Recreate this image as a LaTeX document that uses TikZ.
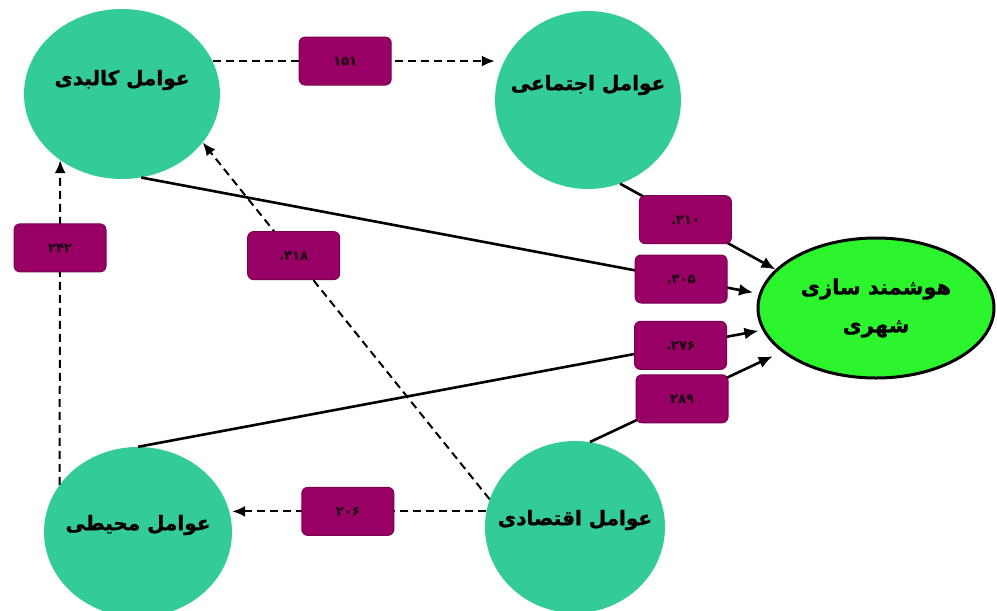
\documentclass[tikz,border=0pt]{standalone}
\usepackage{fontspec}
\usetikzlibrary{shapes.geometric,arrows.meta}
\newfontfamily\arabicfont[Script=Arabic, BoldFeatures={FakeBold=1.2}]{DejaVu Sans}
\TeXXeTstate=1
\definecolor{tealf}{RGB}{51,204,153}
\definecolor{purp}{RGB}{153,0,102}
\definecolor{lgreen}{RGB}{45,245,45}
\newcommand{\dec}[1]{\hbox{.}\hbox{#1}}
\tikzset{
 factor/.style={ellipse, fill=tealf, draw=none, inner sep=0pt},
 etext/.style={font=\arabicfont\bfseries\fontsize{20}{24}\selectfont, text=black},
 lbl/.style={rectangle, solid, rounded corners=6pt, fill=purp, draw=purp!80!black, line width=1pt,
   minimum width=92pt, minimum height=48pt, inner sep=0pt,
   font=\arabicfont\bfseries\fontsize{13}{15}\selectfont, text=black!75!purp},
 solidarrow/.style={line width=2.6pt, -{Latex[length=14pt,width=12pt]}},
 dasharrow/.style={line width=2pt, dash pattern=on 8pt off 5pt, -{Latex[length=13pt,width=11pt]}},
}
\begin{document}
\begin{tikzpicture}[x=1pt,y=-1pt]
\useasboundingbox (0,0) rectangle (997,611);
\clip (0,0) rectangle (997,611);
% factor ellipses
\node[factor, minimum width=196pt, minimum height=170pt] (phys) at (122,94) {};
\node[factor, minimum width=186pt, minimum height=178pt] (soc) at (588,100) {};
\node[factor, minimum width=188pt, minimum height=170pt] (env) at (138,532) {};
\node[factor, minimum width=180pt, minimum height=172pt] (eco) at (575,527) {};
\node[ellipse, fill=lgreen, draw=black, line width=3pt, line join=round, minimum width=236pt, minimum height=140pt, inner sep=0pt] (smart) at (876,308) {};
% texts
\node[etext] (physT) at ([yshift=14pt]phys.center) {\beginR عوامل کالبدی\endR};
\node[etext] (socT) at ([yshift=15pt]soc.center) {\beginR عوامل اجتماعی\endR};
\node[etext] (envT) at ([yshift=7pt]env.center) {\beginR عوامل محیطی\endR};
\node[etext] (ecoT) at ([yshift=7pt]eco.center) {\beginR عوامل اقتصادی\endR};
\node[font=\arabicfont\bfseries\fontsize{21}{38}\selectfont, align=center] (smartT) at (smart.center) {\beginR هوشمند سازی\endR\\\beginR شهری\endR};
% connectors with coefficient labels
\draw[dasharrow] (phys.20) -- node[lbl,pos=0.47] (l151) {۱۵۱} (phys.20 -| soc.west);
\draw[solidarrow] (soc.-69) -- node[lbl,pos=0.42] (l210) {\dec{۲۱۰}} (smart.159);
\draw[solidarrow, shorten >=6pt] (phys.-77) -- node[lbl,pos=0.874] (l305) {\dec{۳۰۵}} (smart.173);
\draw[solidarrow, shorten >=4pt] (env.north) -- node[lbl,pos=0.869] (l276) {\dec{۲۷۶}} (smart.191);
\draw[solidarrow, shorten >=10pt] (eco.80) -- node[lbl,pos=0.48] (l289) {۲۸۹} (smart.205);
\draw[dasharrow] (eco.170) -- node[lbl,pos=0.545] (l206) {۲۰۶} (eco.170 -| env.east);
\draw[dasharrow] (env.149) -- node[lbl,pos=0.73] (l242) {۲۴۲} (phys.227);
\draw[dasharrow] (eco.162) -- node[lbl,pos=0.683] (l318) {\dec{۳۱۸}} (phys.329);
\end{tikzpicture}
\end{document}
